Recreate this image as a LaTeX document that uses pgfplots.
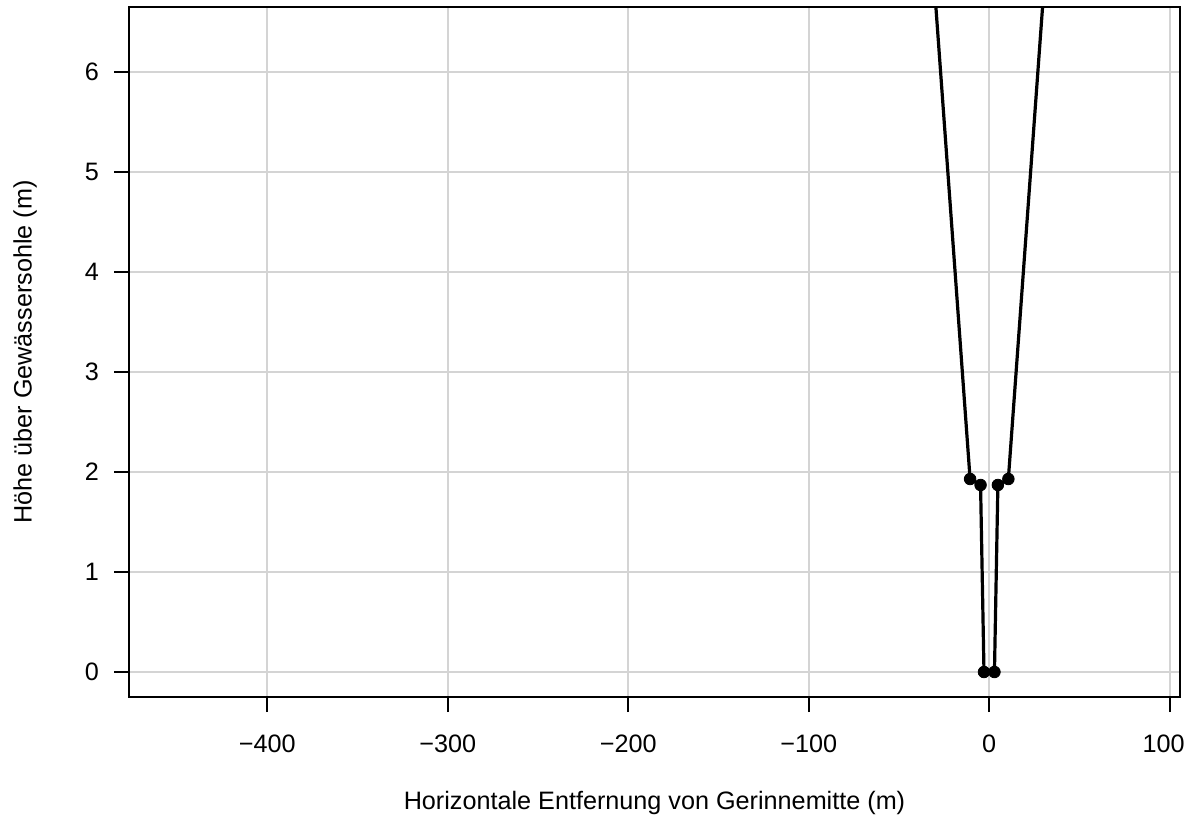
\documentclass[border=0pt]{standalone}
\usepackage{fontspec}
\setmainfont{Liberation Sans}
\usepackage{pgfplots}
\pgfplotsset{compat=1.18}
\begin{document}
\begin{tikzpicture}
\begin{axis}[
  name=ax,
  scale only axis,
  width=525.5pt, height=345pt,
  xmin=-476.6, xmax=105.7,
  ymin=-0.25, ymax=6.65,
  xtick={-400,-300,-200,-100,0,100},
  xticklabels={−400,−300,−200,−100,0,{\hspace*{-6pt}100}},
  ytick={0,1,2,3,4,5,6},
  yticklabels={0,1,2,3,4,5,6},
  grid=major,
  grid style={color=black!17, line width=0.9pt},
  axis line style={line width=0.8pt},
  tick style={black, line width=0.8pt},
  tick align=outside,
  major tick length=7.5pt,
  xtick pos=bottom, ytick pos=left,
  tick label style={font=\fontsize{12.6}{14}\selectfont},
  xticklabel style={yshift=-8pt},
  yticklabel style={xshift=-4pt},
  label style={font=\fontsize{12.6}{14}\selectfont},
  xlabel={Horizontale Entfernung von Gerinnemitte (m)},
  ylabel={Höhe über Gewässersohle (m)},
  xlabel style={at={(axis description cs:0.5,0)}, anchor=center, yshift=-53pt},
  ylabel style={at={(axis description cs:0,0.5)}, anchor=center, rotate=0, yshift=52pt},
  clip=true,
]
\addplot[black, line width=1.6pt] coordinates {
  (-43.0,10) (-10.6,1.93) (-4.8,1.87) (-2.9,0) (2.9,0) (4.8,1.87) (10.6,1.93) (43.0,10)
};
\addplot[only marks, mark=*, mark size=2.9pt, black] coordinates {
  (-10.6,1.93) (-4.8,1.87) (-2.9,0) (2.9,0) (4.8,1.87) (10.6,1.93)
};
\end{axis}
\pgfresetboundingbox
\path ([shift={(-64.5pt,-61pt)}]ax.south west) rectangle ([shift={(4pt,3.5pt)}]ax.north east);
\end{tikzpicture}
\end{document}
